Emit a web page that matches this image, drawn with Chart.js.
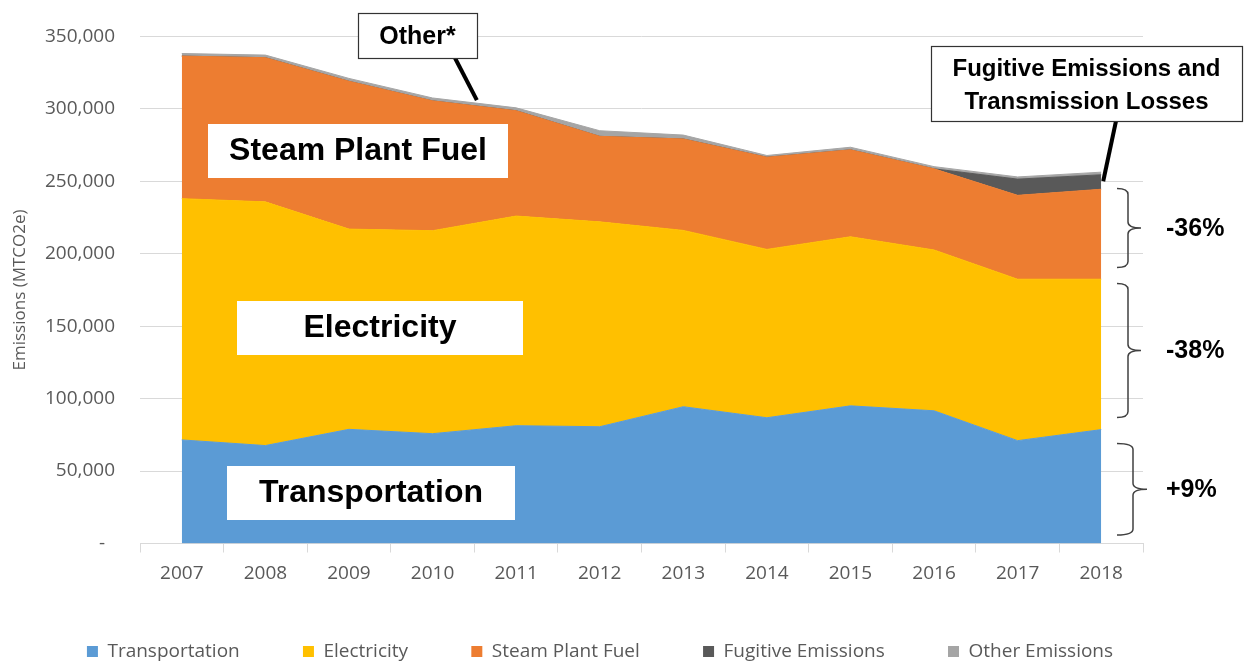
<!DOCTYPE html>
<html>
<head>
<meta charset="utf-8">
<script src="https://cdn.jsdelivr.net/npm/chart.js"></script>
<style>
  html, body { margin: 0; padding: 0; background: #fff; }
  #wrap { width: 1246px; height: 663px; position: relative; }
</style>
</head>
<body>
<div id="wrap"><canvas id="chart"></canvas></div>
<script>
const years = ['2007', '2008', '2009', '2010', '2011', '2012', '2013', '2014', '2015', '2016', '2017', '2018'];
const transportation = [71500, 67600, 78800, 75800, 81300, 80600, 94400, 86800, 95000, 91600, 71000, 78600];
const electricity = [166500, 168200, 138200, 140100, 144700, 141400, 121700, 116200, 116700, 111000, 111400, 103800];
const steamPlantFuel = [98400, 99500, 102000, 89600, 72700, 59000, 63100, 63600, 60000, 56000, 57900, 62100];
const fugitiveEmissions = [0, 0, 0, 0, 0, 0, 0, 0, 0, 0, 11200, 10000];
const otherEmissions = [1800, 1800, 2000, 2000, 2000, 3900, 2700, 1200, 1800, 1500, 1500, 1800];

const yMax = 350000;
const yStep = 50000;

// brackets on the right: [from, to] in MTCO2e, with the change label
const brackets = [
  { from: 190500, to: 245000, text: '-36%' },
  { from: 87000, to: 179500, text: '-38%' },
  { from: 5800, to: 69000, text: '+9%' }
];

const gray = '#595959';
const tickFont = { family: '"Open Sans", sans-serif', size: 19 };
const boldFont = 'bold {s}px "Liberation Sans", Arial, sans-serif';

function area(label, data, color, fill) {
  return {
    label: label,
    data: data,
    backgroundColor: color,
    borderColor: color,
    borderWidth: 1,
    pointRadius: 0,
    tension: 0,
    fill: fill
  };
}

function textBox(ctx, o) {
  ctx.fillStyle = '#fff';
  ctx.fillRect(o.x, o.y, o.w, o.h);
  if (o.border) {
    ctx.strokeStyle = '#333';
    ctx.lineWidth = 1.2;
    ctx.strokeRect(o.x + 0.5, o.y + 0.5, o.w, o.h);
  }
  ctx.fillStyle = '#000';
  ctx.font = boldFont.replace('{s}', o.size);
  ctx.textAlign = 'center';
  ctx.textBaseline = 'middle';
  o.lines.forEach((t, i) => {
    ctx.fillText(t, o.x + o.w / 2, o.y + o.first + i * (o.gap || 0));
  });
}

function brace(ctx, x0, x1, x2, y1, y2) {
  const ym = (y1 + y2) / 2, r = 6;
  ctx.beginPath();
  ctx.moveTo(x0, y1);
  ctx.quadraticCurveTo(x1, y1, x1, y1 + r);
  ctx.lineTo(x1, ym - r);
  ctx.quadraticCurveTo(x1, ym, x2, ym);
  ctx.quadraticCurveTo(x1, ym, x1, ym + r);
  ctx.lineTo(x1, y2 - r);
  ctx.quadraticCurveTo(x1, y2, x0, y2);
  ctx.stroke();
}

const annotations = {
  id: 'annotations',
  afterDraw(chart) {
    const ctx = chart.ctx;
    const xs = chart.scales.x, ys = chart.scales.y;
    const total = i => transportation[i] + electricity[i] + steamPlantFuel[i] + fugitiveEmissions[i] + otherEmissions[i];
    ctx.save();

    textBox(ctx, { x: 208, y: 124, w: 300, h: 54, lines: ['Steam Plant Fuel'], size: 32, first: 27 });
    textBox(ctx, { x: 237, y: 301, w: 286, h: 54, lines: ['Electricity'], size: 32, first: 27 });
    textBox(ctx, { x: 227, y: 466, w: 288, h: 54, lines: ['Transportation'], size: 32, first: 27 });

    // Other* callout, pointing at the top of the stack between 2010 and 2011
    const t = 0.53;
    const px = xs.getPixelForValue(3) + t * (xs.getPixelForValue(4) - xs.getPixelForValue(3));
    const py = ys.getPixelForValue(total(3) + t * (total(4) - total(3))) - 3;
    ctx.strokeStyle = '#000';
    ctx.lineWidth = 4;
    ctx.beginPath();
    ctx.moveTo(455, 58);
    ctx.lineTo(px, py);
    ctx.stroke();
    textBox(ctx, { x: 358, y: 13, w: 119, h: 45, lines: ['Other*'], size: 25, first: 24, border: true });

    // fugitive callout, pointing at the 2018 fugitive band
    const last = years.length - 1;
    const fx = xs.getPixelForValue(last) + 2;
    const fy = ys.getPixelForValue(transportation[last] + electricity[last] + steamPlantFuel[last] + 0.55 * fugitiveEmissions[last]);
    ctx.strokeStyle = '#000';
    ctx.lineWidth = 4;
    ctx.beginPath();
    ctx.moveTo(1116, 121);
    ctx.lineTo(fx, fy);
    ctx.stroke();
    textBox(ctx, { x: 931, y: 46, w: 311, h: 75, lines: ['Fugitive Emissions and', 'Transmission Losses'], size: 24, first: 23, gap: 33, border: true });

    // brackets and percentage changes
    ctx.strokeStyle = '#404040';
    ctx.lineWidth = 1.5;
    brackets.forEach((b, i) => {
      const y1 = ys.getPixelForValue(b.to), y2 = ys.getPixelForValue(b.from);
      const spine = i === 2 ? 1133 : 1128;
      const tip = i === 2 ? 1147 : 1141;
      brace(ctx, 1117, spine, tip, y1, y2);
      ctx.fillStyle = '#000';
      ctx.font = boldFont.replace('{s}', 25);
      ctx.textAlign = 'left';
      ctx.textBaseline = 'middle';
      ctx.fillText(b.text, 1166, (y1 + y2) / 2 + 1);
    });
    ctx.restore();
  }
};

const data = {
  labels: years,
  datasets: [
    area('Transportation', transportation, '#5B9BD5', 'origin'),
    area('Electricity', electricity, '#FFC000', '-1'),
    area('Steam Plant Fuel', steamPlantFuel, '#ED7D31', '-1'),
    area('Fugitive Emissions', fugitiveEmissions, '#595959', '-1'),
    area('Other Emissions', otherEmissions, '#A5A5A5', '-1')
  ]
};

const config = {
  type: 'line',
  data: data,
  plugins: [annotations],
  options: {
    responsive: true,
    maintainAspectRatio: false,
    animation: false,
    layout: { padding: { top: 33, right: 46, left: 0, bottom: 0 } },
    plugins: {
      tooltip: { enabled: false },
      legend: {
        position: 'bottom',
        maxHeight: 25,
        labels: {
          color: gray,
          font: tickFont,
          boxWidth: 11,
          boxHeight: 11,
          padding: 4,
          generateLabels: (chart) => {
            const items = Chart.defaults.plugins.legend.labels.generateLabels(chart);
            items.forEach((it, i) => {
              it.lineWidth = 0;
              if (i < items.length - 1) it.text += ' '.repeat(12);
            });
            return items;
          }
        }
      }
    },
    scales: {
      x: {
        offset: true,
        grid: {
          offset: true,
          drawOnChartArea: false,
          drawTicks: true,
          tickLength: 9,
          color: '#d9d9d9'
        },
        border: { display: true, color: '#d9d9d9' },
        ticks: { color: gray, font: tickFont, padding: 10, maxRotation: 0 },
        afterFit: (s) => { s.height = 94.5; }
      },
      y: {
        stacked: true,
        min: 0,
        max: yMax,
        grid: { color: '#d9d9d9', drawTicks: false },
        border: { display: false },
        ticks: {
          stepSize: yStep,
          color: gray,
          font: tickFont,
          padding: 25,
          callback: (v) => v === 0 ? '-  ' : v.toLocaleString('en-US')
        },
        title: {
          display: true,
          text: 'Emissions (MTCO2e)',
          color: gray,
          font: { family: '"Open Sans", sans-serif', size: 17 },
          padding: { top: 10, bottom: 0 }
        },
        afterFit: (s) => { s.width = 140; }
      },
      yRight: {
        position: 'right',
        display: true,
        grid: { display: false },
        border: { display: false },
        ticks: { display: false },
        afterFit: (s) => { s.width = 57; }
      }
    }
  }
};

new Chart(document.getElementById('chart'), config);
</script>
</body>
</html>
